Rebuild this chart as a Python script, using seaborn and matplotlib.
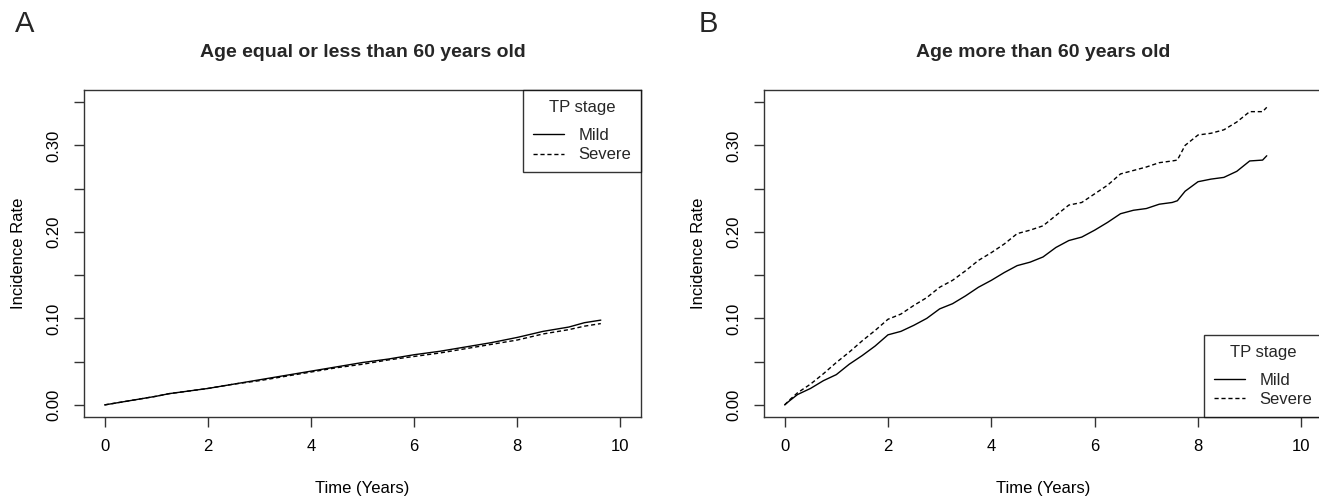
import numpy as np
import pandas as pd
import matplotlib
matplotlib.use('Agg')
import matplotlib.pyplot as plt
import seaborn as sns

# ── data ────────────────────────────────────────────────────
time_a = [0, 0.5, 1.0, 1.25, 1.5, 2.0, 2.5, 3.0, 3.5, 4.0, 4.5, 5.0, 5.5,
          6.0, 6.5, 7.0, 7.5, 8.0, 8.5, 9.0, 9.3, 9.62]
mild_a = [0, 0.005, 0.010, 0.013, 0.015, 0.019, 0.024, 0.029, 0.034, 0.039,
          0.044, 0.049, 0.053, 0.058, 0.062, 0.067, 0.072, 0.078, 0.085,
          0.090, 0.095, 0.098]
severe_a = [0, 0.005, 0.010, 0.013, 0.015, 0.019, 0.024, 0.028, 0.033, 0.038,
            0.043, 0.047, 0.052, 0.056, 0.060, 0.065, 0.070, 0.075, 0.082,
            0.087, 0.091, 0.094]

time_b = [0, 0.1, 0.25, 0.5, 0.75, 1.0, 1.25, 1.5, 1.75, 2.0, 2.25, 2.5, 2.75,
          3.0, 3.25, 3.5, 3.75, 4.0, 4.25, 4.5, 4.75, 5.0, 5.25, 5.5, 5.75,
          6.0, 6.25, 6.5, 6.75, 7.0, 7.25, 7.5, 7.6, 7.75, 8.0, 8.25, 8.5,
          8.75, 9.0, 9.25, 9.33]
mild_b = [0, 0.005, 0.012, 0.019, 0.028, 0.035, 0.047, 0.057, 0.068, 0.081,
          0.085, 0.092, 0.100, 0.111, 0.117, 0.126, 0.136, 0.144, 0.153,
          0.161, 0.165, 0.171, 0.182, 0.190, 0.194, 0.202, 0.211, 0.221,
          0.225, 0.227, 0.232, 0.234, 0.236, 0.247, 0.258, 0.261, 0.263,
          0.270, 0.282, 0.283, 0.288]
severe_b = [0, 0.006, 0.014, 0.024, 0.036, 0.049, 0.061, 0.074, 0.086, 0.099,
            0.105, 0.115, 0.124, 0.136, 0.144, 0.155, 0.167, 0.176, 0.186,
            0.198, 0.202, 0.207, 0.219, 0.231, 0.234, 0.244, 0.254, 0.267,
            0.271, 0.275, 0.280, 0.282, 0.283, 0.300, 0.312, 0.314, 0.318,
            0.327, 0.339, 0.339, 0.344]

x_ticks = [0, 2, 4, 6, 8, 10]
y_ticks = [0, 0.05, 0.10, 0.15, 0.20, 0.25, 0.30, 0.35]
y_tick_labels = ['0.00', '', '0.10', '', '0.20', '', '0.30', '']
titles = ['Age equal or less than 60 years old', 'Age more than 60 years old']
panel_letters = ['A', 'B']
stages = ['Mild', 'Severe']


def long_df(t, mild, severe):
    return pd.DataFrame({
        'time': t + t,
        'rate': mild + severe,
        'stage': ['Mild'] * len(t) + ['Severe'] * len(t),
    })


# ── style ───────────────────────────────────────────────────
sns.set_theme(style='ticks')
plt.rcParams['font.family'] = ['Liberation Sans', 'DejaVu Sans']
plt.rcParams['axes.edgecolor'] = '#333333'
plt.rcParams['xtick.color'] = '#333333'
plt.rcParams['ytick.color'] = '#333333'

fig = plt.figure(figsize=(13.19, 4.99), dpi=100)
ax_a = fig.add_axes([0.0637, 0.1643, 0.4223, 0.6553])
ax_b = fig.add_axes([0.5792, 0.1643, 0.4231, 0.6553])

panels = [
    (ax_a, long_df(time_a, mild_a, severe_a), 'upper right'),
    (ax_b, long_df(time_b, mild_b, severe_b), 'lower right'),
]

for i, (ax, df, loc) in enumerate(panels):
    sns.lineplot(data=df, x='time', y='rate', style='stage',
                 style_order=stages, dashes={'Mild': '', 'Severe': (3, 2)},
                 color='black', linewidth=1.0, ax=ax, legend=False)
    ax.set_xlim(-0.4, 10.4)
    ax.set_ylim(-0.014, 0.364)
    ax.set_xticks(x_ticks)
    ax.set_xticklabels([str(v) for v in x_ticks], fontsize=12, color='black')
    ax.set_yticks(y_ticks)
    ax.set_yticklabels(y_tick_labels, rotation=90, va='center',
                       fontsize=12, color='black')
    ax.tick_params(length=7, width=1, pad=9)
    ax.set_xlabel('Time (Years)', fontsize=12, labelpad=19, color='black')
    ax.set_ylabel('Incidence Rate', fontsize=12, labelpad=15, color='black')
    ax.set_title(titles[i], fontsize=14, fontweight='bold', pad=24)
    for sp in ax.spines.values():
        sp.set_visible(True)
        sp.set_linewidth(1.0)

    handles = [plt.Line2D([], [], color='black', lw=1.0, ls='-'),
               plt.Line2D([], [], color='black', lw=1.0, ls=(0, (3, 2)))]
    leg = ax.legend(handles, stages, title='TP stage', loc=loc,
                    fontsize=12, title_fontsize=12, frameon=True,
                    fancybox=False, edgecolor='black', borderaxespad=0,
                    handlelength=1.85, borderpad=0.6, labelspacing=0.25,
                    handletextpad=0.85)
    leg.get_frame().set_linewidth(1.0)
    # R's legend leaves a wider gap under the title
    leg._legend_box.sep = 9.5

fig.text(0.011, 0.935, panel_letters[0], fontsize=21)
fig.text(0.530, 0.935, panel_letters[1], fontsize=21)

fig.savefig('out.png', dpi=100)
plt.close()
